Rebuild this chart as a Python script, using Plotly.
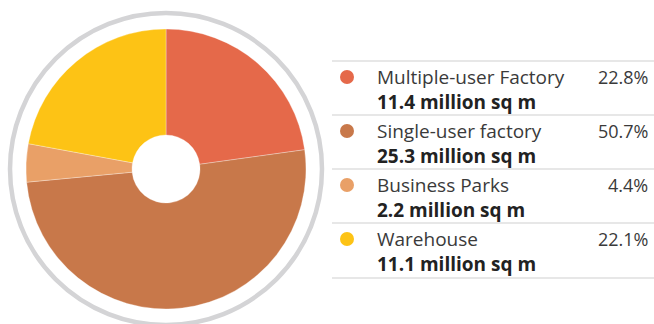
import plotly.graph_objects as go

categories = ["Multiple-user Factory", "Single-user factory", "Business Parks", "Warehouse"]
shares = [22.8, 50.7, 4.4, 22.1]
areas = ["11.4 million sq m", "25.3 million sq m", "2.2 million sq m", "11.1 million sq m"]
pct_labels = ["22.8%", "50.7%", "4.4%", "22.1%"]
colors = ["#E5694A", "#C8784A", "#E9A067", "#FDC315"]

W, H = 654, 324
FONT = "Open Sans"

fig = go.Figure()
fig.add_trace(go.Pie(
    labels=categories, values=shares, sort=False, direction="clockwise", rotation=0,
    hole=0.243, textinfo="none", hoverinfo="label+percent",
    marker=dict(colors=colors, line=dict(color="rgba(255,255,255,0.6)", width=0.5)),
    domain=dict(x=[26 / W, 306 / W], y=[15 / H, 295 / H]),
    showlegend=False,
))

shapes = []
# gray ring
cx, cy, r = 166, H - 169, 156
shapes.append(dict(type="circle", xref="paper", yref="paper",
                   x0=(cx - r) / W, x1=(cx + r) / W, y0=(cy - r) / H, y1=(cy + r) / H,
                   line=dict(color="#D4D4D6", width=4.5), layer="below"))

annotations = []
sep_y = [61, 115, 169, 223, 278]
for y in sep_y:
    shapes.append(dict(type="line", xref="paper", yref="paper",
                       x0=332 / W, x1=654 / W, y0=(H - y) / H, y1=(H - y) / H,
                       line=dict(color="#D0D0D0", width=1.2)))

for i, cat in enumerate(categories):
    ly = 77 + 54 * i
    vy = 102 + 54 * i
    dr = 7
    shapes.append(dict(type="circle", xref="paper", yref="paper",
                       x0=(347 - dr) / W, x1=(347 + dr) / W,
                       y0=(H - ly - dr) / H, y1=(H - ly + dr) / H,
                       fillcolor=colors[i], line=dict(width=0)))
    annotations.append(dict(x=375 / W, y=(H - ly) / H, xref="paper", yref="paper",
                            text=cat, showarrow=False, xanchor="left", yanchor="middle",
                            font=dict(family=FONT, size=19, color="#3A3A3A")))
    annotations.append(dict(x=375 / W, y=(H - vy) / H, xref="paper", yref="paper",
                            text="<b>" + areas[i] + "</b>", showarrow=False,
                            xanchor="left", yanchor="middle",
                            font=dict(family=FONT, size=19, color="#222222")))
    annotations.append(dict(x=650 / W, y=(H - ly) / H, xref="paper", yref="paper",
                            text=pct_labels[i], showarrow=False, xanchor="right",
                            yanchor="middle",
                            font=dict(family=FONT, size=18, color="#3A3A3A")))

fig.update_layout(width=W, height=H, margin=dict(l=0, r=0, t=0, b=0),
                  paper_bgcolor="white", plot_bgcolor="white",
                  shapes=shapes, annotations=annotations)

fig.write_html("out.html")
